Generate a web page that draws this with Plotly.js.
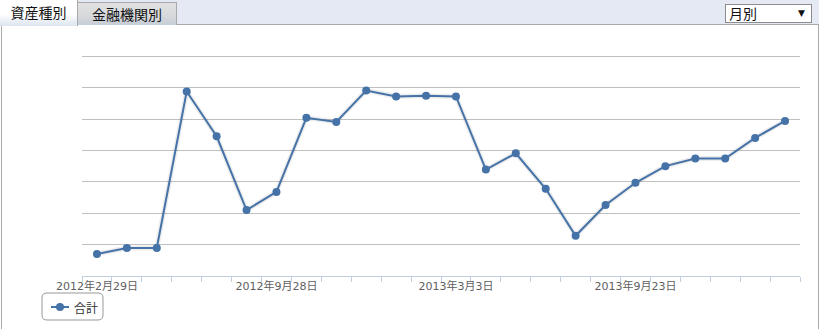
<!DOCTYPE html>
<html>
<head>
<meta charset="utf-8">
<script src="https://cdn.plot.ly/plotly-3.0.1.min.js"></script>
<style>
  html, body { margin: 0; padding: 0; background: #ffffff; }
  #wrap { position: relative; width: 819px; height: 329px; overflow: hidden; font-family: "DejaVu Sans", "Noto Sans CJK JP", sans-serif; }
  #bar { position: absolute; left: 0; top: 0; width: 819px; height: 25px; background: #e4e9f3; border-bottom: 1px solid #a9a9a9; box-sizing: border-box; }
  #panel { position: absolute; left: 1px; top: 25px; width: 816px; height: 310px; border-left: 1px solid #a9a9a9; border-right: 1px solid #a9a9a9; background: #fff; }
  .tab { position: absolute; box-sizing: border-box; font-size: 14px; color: #111; text-align: center; font-family: "Noto Sans CJK JP", sans-serif; }
  #tab1 { left: 0; top: 0; width: 78px; height: 26px; line-height: 25px; background: linear-gradient(#ffffff 0%, #ffffff 55%, #dbe4ef 100%); border-right: 1px solid #a9a9a9; z-index: 2; }
  #tab2 { left: 78px; top: 2px; width: 99px; height: 23px; line-height: 22px; background: linear-gradient(#e2e2e2 0%, #d6d8db 60%, #c5cdd6 100%); border: 1px solid #a9a9a9; border-bottom: none; border-left: none; }
  #sel { position: absolute; left: 725px; top: 4px; width: 87px; height: 19px; box-sizing: border-box; background: #fff; border: 1px solid #8c8c8c; font-size: 14px; line-height: 17px; padding-left: 3px; font-family: "Noto Sans CJK JP", sans-serif; color: #111; }
  #sel span { position: absolute; right: 6px; top: 0; font-size: 9px; font-family: "DejaVu Sans", sans-serif; }
  #chart { position: absolute; left: 0; top: 0; width: 819px; height: 329px; }
</style>
</head>
<body>
<div id="wrap">
  <div id="bar"></div>
  <div id="panel"></div>
  <div class="tab" id="tab1">資産種別</div>
  <div class="tab" id="tab2">金融機関別</div>
  <div id="sel">月別<span>▼</span></div>
  <div id="chart"></div>
</div>
<script>
// ---- data ----
const seriesName = '合計';
const tickLabels = ['2012年2月29日', '2012年9月28日', '2013年3月3日', '2013年9月23日'];
const labelEvery = 6;
const totals = [70, 89, 89, 588, 445, 210, 268, 504, 491, 591, 572, 574, 572, 339, 391, 278, 128, 226, 297, 350, 374, 374, 440, 494];
const monthIndex = totals.map((_, i) => i);
const tickIndex = tickLabels.map((_, i) => i * labelEvery);

const blue = '#4572A7';

const traces = [
  {
    x: monthIndex, y: totals, type: 'scatter', mode: 'lines',
    line: { color: 'rgba(0,0,0,0.07)', width: 5 },
    hoverinfo: 'skip', showlegend: false
  },
  {
    x: monthIndex, y: totals, type: 'scatter', mode: 'lines+markers',
    name: seriesName,
    line: { color: blue, width: 2 },
    marker: { color: blue, size: 8 },
    showlegend: false
  }
];

const layout = {
  width: 819, height: 329,
  margin: { l: 82, r: 19, t: 50, b: 53 },
  paper_bgcolor: 'rgba(0,0,0,0)',
  plot_bgcolor: 'rgba(0,0,0,0)',
  showlegend: false,
  font: { family: '"DejaVu Sans", "Noto Sans CJK JP", sans-serif', size: 11, color: '#606060' },
  xaxis: {
    range: [-0.5, totals.length - 0.5],
    tickmode: 'array', tickvals: tickIndex, ticktext: tickLabels,
    ticks: '', showgrid: false, zeroline: false,
    showline: true, linecolor: '#C0D0E0', linewidth: 1,
    tickfont: { size: 11, color: '#606060' },
    minor: { tick0: -0.5, dtick: 1, ticks: 'outside', ticklen: 5, tickcolor: '#C0D0E0', tickwidth: 1, showgrid: false },
    fixedrange: true
  },
  yaxis: {
    range: [0, 720], dtick: 100, tick0: 0,
    showticklabels: false, ticks: '',
    gridcolor: '#C0C0C0', gridwidth: 1,
    zeroline: false, showline: false,
    fixedrange: true
  },
  shapes: [
    {
      type: 'path', xref: 'paper', yref: 'paper', xsizemode: 'pixel', ysizemode: 'pixel',
      xanchor: 0, yanchor: 0,
      path: 'M -35,-17 L 16,-17 Q 21,-17 21,-22 L 21,-39 Q 21,-44 16,-44 L -35,-44 Q -40,-44 -40,-39 L -40,-22 Q -40,-17 -35,-17 Z',
      line: { color: '#999999', width: 1 }, fillcolor: 'rgba(255,255,255,0)'
    },
    {
      type: 'line', xref: 'paper', yref: 'paper', xsizemode: 'pixel', ysizemode: 'pixel',
      xanchor: 0, yanchor: 0, x0: -31, x1: -13, y0: -31, y1: -31,
      line: { color: blue, width: 2 }
    },
    {
      type: 'circle', xref: 'paper', yref: 'paper', xsizemode: 'pixel', ysizemode: 'pixel',
      xanchor: 0, yanchor: 0, x0: -26, x1: -18, y0: -35, y1: -27,
      line: { color: blue, width: 0 }, fillcolor: blue
    }
  ],
  annotations: [
    {
      text: seriesName, xref: 'paper', yref: 'paper', x: 0, y: 0,
      xanchor: 'left', yanchor: 'middle', xshift: -10, yshift: -31,
      showarrow: false, font: { size: 12, color: '#333333', family: '"Noto Sans CJK JP", sans-serif' }
    }
  ]
};

Plotly.newPlot('chart', traces, layout, { displayModeBar: false, staticPlot: true });
</script>
</body>
</html>
